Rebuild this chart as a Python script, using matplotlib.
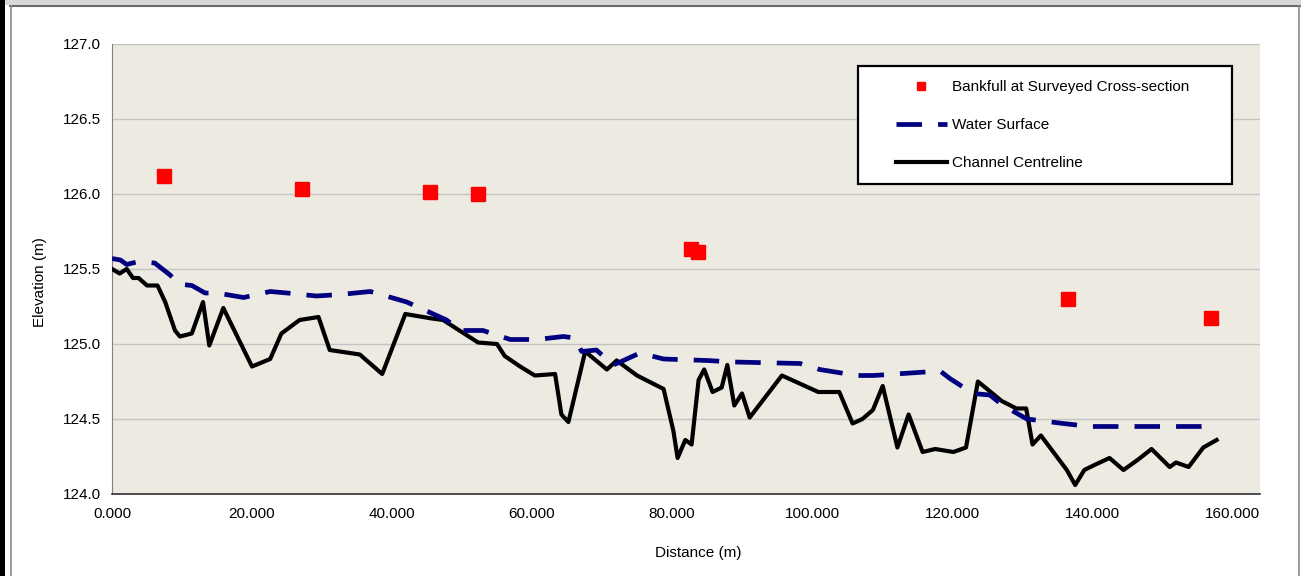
"""
Longitudinal profile: bankfull, water surface and channel centreline elevations
"""
import matplotlib
matplotlib.use("Agg")
import matplotlib.pyplot as plt
from matplotlib.lines import Line2D
from matplotlib.patches import Rectangle
from matplotlib.ticker import FormatStrFormatter, MultipleLocator

plt.rcParams['font.family'] = ['Liberation Sans', 'DejaVu Sans']

# bankfull at surveyed cross-sections
bank_dist = [7.4, 27.1, 45.4, 52.3, 82.7, 83.7, 136.6, 157.0]
bank_elev = [126.12, 126.03, 126.01, 126.00, 125.63, 125.61, 125.30, 125.17]

# water surface
ws_dist = [0.0, 1.2, 2.1, 3.8, 6.1, 8.3, 9.5, 11.4, 13.3, 15.0, 18.8, 22.6, 25.0,
           29.2, 32.6, 36.9, 42.1, 47.8, 49.7, 53.0, 56.9, 60.7, 64.5, 66.1, 67.1,
           69.2, 71.6, 72.6, 75.4, 78.8, 85.0, 88.8, 98.3, 101.1, 106.4, 108.8,
           118.3, 119.7, 123.0, 125.4, 127.3, 130.7, 135.9, 139.7, 157.8]
ws_elev = [125.57, 125.56, 125.53, 125.55, 125.54, 125.46, 125.40, 125.39, 125.34,
           125.34, 125.31, 125.35, 125.34, 125.32, 125.33, 125.35, 125.28, 125.16,
           125.09, 125.09, 125.03, 125.03, 125.05, 125.04, 124.95, 124.96, 124.86,
           124.88, 124.94, 124.90, 124.89, 124.88, 124.87, 124.83, 124.79, 124.79,
           124.82, 124.77, 124.67, 124.66, 124.59, 124.50, 124.47, 124.45, 124.45]

# channel centreline
cl_dist = [0.0, 1.1, 2.1, 3.0, 3.8, 5.0, 6.5, 7.6, 9.0, 9.7, 11.4, 13.0, 13.9, 15.9,
           20.0, 22.6, 24.2, 26.8, 29.5, 31.1, 35.4, 38.6, 41.9, 45.7, 47.3, 52.3,
           55.0, 56.1, 58.3, 60.4, 63.3, 64.2, 65.2, 67.6, 70.7, 72.1, 75.0, 78.8,
           80.2, 80.8, 81.9, 82.8, 83.8, 84.6, 85.8, 87.1, 87.9, 88.9, 90.0, 91.1,
           95.7, 100.9, 103.9, 105.8, 107.2, 108.7, 110.1, 112.2, 113.8, 115.8,
           117.6, 120.2, 122.0, 123.7, 127.1, 129.2, 130.6, 131.5, 132.7, 136.4,
           137.6, 138.9, 140.2, 142.5, 144.5, 146.6, 148.5, 151.1, 152.0, 153.8,
           155.9, 157.8]
cl_elev = [125.50, 125.47, 125.50, 125.44, 125.44, 125.39, 125.39, 125.28, 125.09,
           125.05, 125.07, 125.28, 124.99, 125.24, 124.85, 124.90, 125.07, 125.16,
           125.18, 124.96, 124.93, 124.80, 125.20, 125.17, 125.16, 125.01, 125.00,
           124.92, 124.85, 124.79, 124.80, 124.53, 124.48, 124.95, 124.83, 124.89,
           124.79, 124.70, 124.42, 124.24, 124.36, 124.33, 124.76, 124.83, 124.68,
           124.71, 124.86, 124.59, 124.67, 124.51, 124.79, 124.68, 124.68, 124.47,
           124.50, 124.56, 124.72, 124.31, 124.53, 124.28, 124.30, 124.28, 124.31,
           124.75, 124.62, 124.57, 124.57, 124.33, 124.39, 124.16, 124.06, 124.16,
           124.19, 124.24, 124.16, 124.23, 124.30, 124.18, 124.21, 124.18, 124.31,
           124.36]

W, H = 1301, 576
fig = plt.figure(figsize=(W / 100, H / 100), dpi=100)
ax = fig.add_axes([112 / W, 1 - 494 / H, 1148 / W, 450 / H])
ax.set_facecolor("#edebe1")

ax.plot(cl_dist, cl_elev, color="black", lw=3.0, label="Channel Centreline", zorder=3)
ax.plot(ws_dist, ws_elev, color="#000080", lw=3.4, dashes=(5.4, 3.4),
        label="Water Surface", zorder=4)
ax.plot(bank_dist, bank_elev, ls="none", marker="s", ms=9.5, color="#ff0000",
        label="Bankfull at Surveyed Cross-section", zorder=5)

ax.set_xlim(0, 164)
ax.set_ylim(124, 127)
ax.xaxis.set_major_locator(MultipleLocator(20))
ax.yaxis.set_major_locator(MultipleLocator(0.5))
ax.xaxis.set_major_formatter(FormatStrFormatter("%.3f"))
ax.yaxis.set_major_formatter(FormatStrFormatter("%.1f"))
ax.tick_params(length=0, labelsize=11, colors="black")
ax.tick_params(axis="x", pad=9)
ax.tick_params(axis="y", pad=8)
ax.grid(axis="y", color="#c4c4c4", lw=1.0, zorder=0)
ax.set_axisbelow(True)

for side in ("top", "right"):
    ax.spines[side].set_visible(False)
ax.spines["left"].set_color("#808080")
ax.spines["bottom"].set_color("#303030")
ax.spines["bottom"].set_linewidth(1.2)

ax.set_xlabel("Distance (m)", fontsize=11, labelpad=18)
ax.set_ylabel("Elevation (m)", fontsize=11, labelpad=11.5)
# Excel centres the titles on the chart area, not the plot area
ax.xaxis.label.set_x(0.511)
ax.yaxis.label.set_y(0.47)

# legend in a boxed frame, like the spreadsheet chart
handles, labels = ax.get_legend_handles_labels()
order = [2, 1, 0]
leg = ax.legend([handles[i] for i in order], [labels[i] for i in order],
                loc="upper left", bbox_to_anchor=(0.683, 0.920),
                frameon=False, fontsize=11, handlelength=3.3,
                handletextpad=0.35, labelspacing=1.58, borderpad=0,
                borderaxespad=0, markerscale=0.68)
ax.add_patch(Rectangle((0.650, 0.689), 0.326, 0.262, transform=ax.transAxes,
                       facecolor="white", edgecolor="black", lw=1.6, zorder=6))
leg.set_zorder(7)

# window border pieces of the screenshot
fig.add_artist(Rectangle((0, 1 - 5 / H), 1, 5 / H, transform=fig.transFigure,
                         facecolor="#d8d8d8", edgecolor="none"))
fig.add_artist(Line2D([10 / W, 1], [1 - 6 / H, 1 - 6 / H], transform=fig.transFigure,
                      color="#6a6a6a", lw=1.5))
fig.add_artist(Rectangle((0, 0), 5 / W, 1, transform=fig.transFigure,
                         facecolor="black", edgecolor="none"))
fig.add_artist(Line2D([11 / W, 11 / W], [0, 1 - 6 / H], transform=fig.transFigure,
                      color="#8a8a8a", lw=1.2))
fig.add_artist(Line2D([1299 / W, 1299 / W], [0, 1 - 6 / H], transform=fig.transFigure,
                      color="#8a8a8a", lw=1.2))

plt.savefig("out.png", dpi=100)
